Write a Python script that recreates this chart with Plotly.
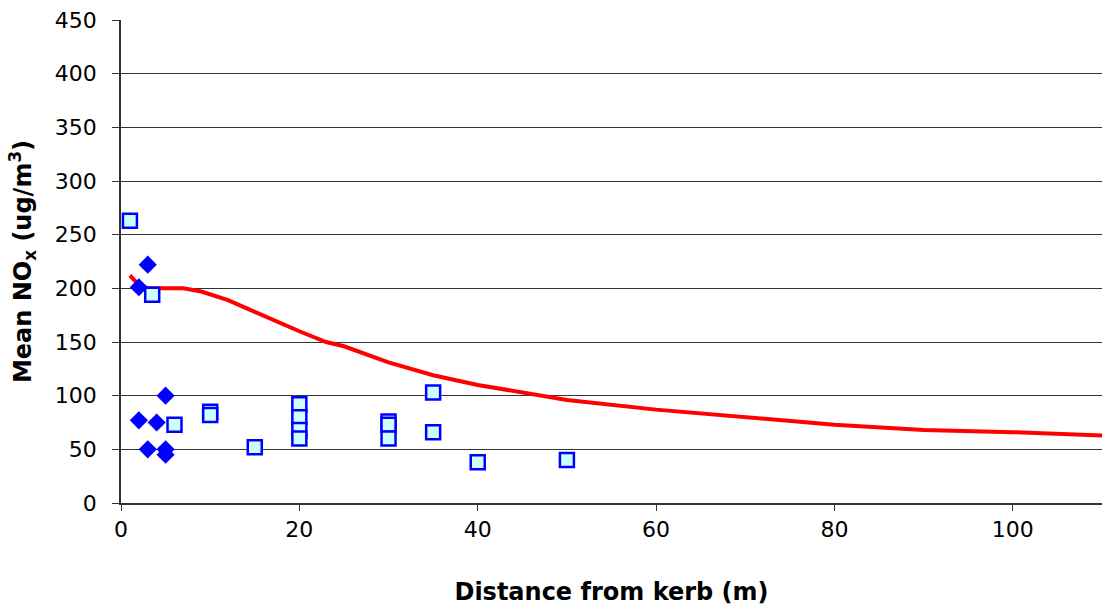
import plotly.graph_objects as go

# Diamonds (filled blue)
diamond_x = [2, 3, 5, 2, 4, 3, 5, 5]
diamond_y = [201, 222, 100, 77, 75, 50, 50, 45]

# Squares (light cyan fill, blue border)
square_x = [1, 3.5, 6, 10, 10, 15, 20, 20, 20, 20, 30, 30, 30, 35, 35, 40, 50]
square_y = [263, 194, 73, 85, 82, 52, 92, 80, 68, 60, 76, 73, 60, 103, 66, 38, 40]

# Model line (red)
line_x = [1, 2, 3, 5, 7, 9, 12, 15, 18, 20, 23, 25, 30, 35, 40, 45, 50, 60, 70, 80, 90, 100, 110]
line_y = [212, 203, 200, 200, 200, 197, 189, 178, 167, 160, 150, 146, 131, 119, 110, 103, 96, 87, 80, 73, 68, 66, 63]

x_ticks = [0, 20, 40, 60, 80, 100]
y_ticks = [0, 50, 100, 150, 200, 250, 300, 350, 400, 450]

fig = go.Figure()
fig.add_trace(go.Scatter(x=line_x, y=line_y, mode="lines",
                         line=dict(color="#FF0000", width=4), showlegend=False))
fig.add_trace(go.Scatter(x=diamond_x, y=diamond_y, mode="markers",
                         marker=dict(symbol="diamond", size=14, color="#0000FF",
                                     line=dict(width=0)), showlegend=False))
fig.add_trace(go.Scatter(x=square_x, y=square_y, mode="markers",
                         marker=dict(symbol="square", size=14, color="#CCFFFF",
                                     line=dict(color="#0000FF", width=2.5)), showlegend=False))

font = "DejaVu Sans, sans-serif"
fig.update_layout(
    width=1102, height=611,
    margin=dict(l=121, r=0, t=20, b=108, autoexpand=False),
    plot_bgcolor="white", paper_bgcolor="white",
    font=dict(family=font, color="black", size=22),
    showlegend=False,
)
fig.update_xaxes(range=[0, 110], tickvals=x_ticks, showgrid=False, zeroline=False,
                 showline=True, linecolor="#333333", linewidth=1.5,
                 ticks="outside", ticklen=6, tickcolor="#333333",
                 tickfont=dict(size=22), automargin=False, ticklabelstandoff=0,
                 title=dict(text="<b>Distance from kerb (m)</b>", font=dict(size=24), standoff=42))
fig.update_yaxes(range=[0, 450], tickvals=y_ticks, showgrid=True, gridcolor="#333333",
                 gridwidth=1, zeroline=False,
                 showline=True, linecolor="#333333", linewidth=1.5,
                 ticks="outside", ticklen=7, tickcolor="#333333",
                 tickfont=dict(size=22), automargin=False, ticklabelstandoff=11,
                 title=dict(text="<b>Mean NO<sub>x</sub> (ug/m<sup>3</sup>)</b>", font=dict(size=24), standoff=16))

fig.write_html("out.html", config={"displayModeBar": False},
               post_script="document.body.style.margin='0';document.body.style.overflow='hidden';")
